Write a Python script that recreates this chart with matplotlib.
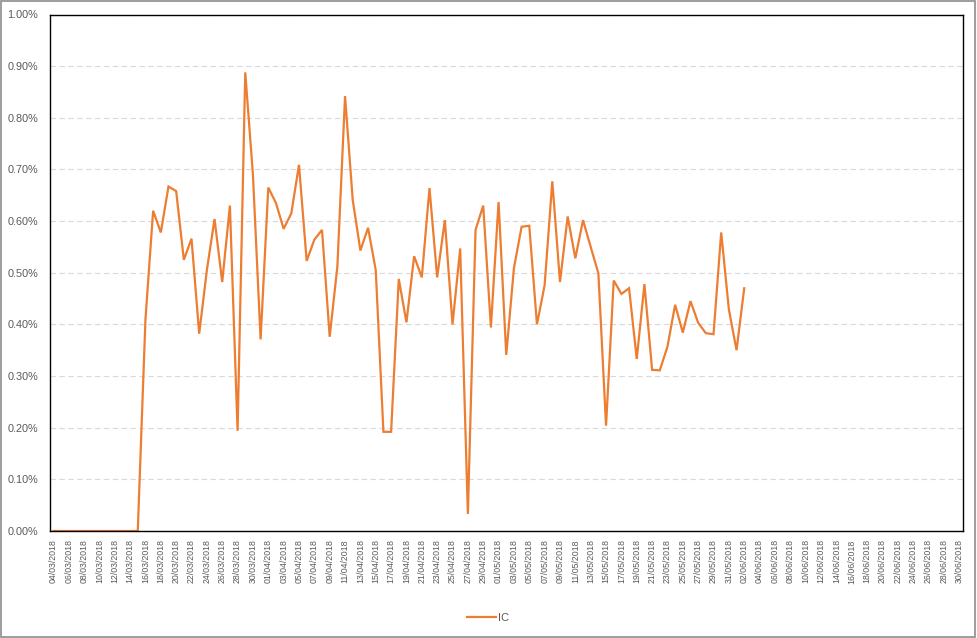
import numpy as np
import pandas as pd
import matplotlib
matplotlib.use("Agg")
import matplotlib.pyplot as plt
import matplotlib.dates as mdates
from matplotlib.patches import Rectangle

plt.rcParams['font.family'] = ['Liberation Sans', 'DejaVu Sans']

# daily IC values (in %), 04/03/2018 -> 02/06/2018
start_date = "2018-03-04"
end_date = "2018-06-02"
axis_end = "2018-06-30"

ic_march = [0.0, 0.0, 0.0, 0.0, 0.0, 0.0, 0.0, 0.0, 0.0, 0.0, 0.0, 0.0,
            0.41, 0.620, 0.578, 0.667, 0.658, 0.525, 0.566, 0.382,
            0.505, 0.604, 0.482, 0.630, 0.194, 0.888, 0.690, 0.371]
ic_april = [0.665, 0.635, 0.585, 0.615, 0.709, 0.523, 0.564, 0.583, 0.376, 0.512,
            0.842, 0.641, 0.543, 0.587, 0.505, 0.192, 0.192, 0.488, 0.404, 0.532,
            0.491, 0.664, 0.491, 0.602, 0.400, 0.547, 0.033, 0.583, 0.630, 0.394]
ic_may = [0.637, 0.341, 0.509, 0.589, 0.591, 0.400, 0.476, 0.677, 0.482, 0.609,
          0.528, 0.602, 0.550, 0.499, 0.204, 0.485, 0.459, 0.470, 0.333, 0.478,
          0.312, 0.311, 0.357, 0.438, 0.384, 0.445, 0.403, 0.383, 0.381, 0.578,
          0.429]
ic_june = [0.350, 0.470]

ic = ic_march + ic_april + ic_may + ic_june
dates = pd.date_range(start_date, end_date, freq="D")

grey_text = "#595959"
orange = "#ED7D31"

fig = plt.figure(figsize=(9.77, 6.38), dpi=100)
ax = fig.add_axes([49.5 / 977, (638 - 531) / 638, (963 - 49.5) / 977, (531 - 14.5) / 638])

ax.plot(dates, ic, color=orange, linewidth=1.6, label="IC", solid_joinstyle="miter")

half = pd.Timedelta(hours=12)
ax.set_xlim(pd.Timestamp(start_date) - half, pd.Timestamp(axis_end) + half)
ax.set_ylim(0, 1.0)

ax.set_yticks(np.arange(0, 1.01, 0.1))
ax.yaxis.set_major_formatter(plt.FuncFormatter(lambda v, p: "{:.2f}%".format(v)))
ticks = pd.date_range(start_date, axis_end, freq="2D")
ax.set_xticks(ticks)
ax.set_xticklabels([d.strftime("%d/%m/%Y") for d in ticks], rotation=90)

ax.tick_params(axis="y", length=0, pad=8, labelsize=7.8, labelcolor=grey_text)
ax.tick_params(axis="x", length=0, pad=6, labelsize=6.3, labelcolor=grey_text)

ax.grid(axis="y", color="#D9D9D9", linestyle=(0, (5, 3)), linewidth=0.8)
ax.set_axisbelow(True)
for s in ax.spines.values():
    s.set_color("black")
    s.set_linewidth(1.0)

fig.legend(loc="center", bbox_to_anchor=(0.5, 1 - 618 / 638), frameon=False,
           fontsize=8, labelcolor=grey_text, handlelength=2.6, handletextpad=0.2)

fig.patches.append(Rectangle((0.001, 0.001), 0.997, 0.997, transform=fig.transFigure,
                             fill=False, edgecolor="#8C8C8C", linewidth=1.2))

plt.savefig("out.png", dpi=100)
